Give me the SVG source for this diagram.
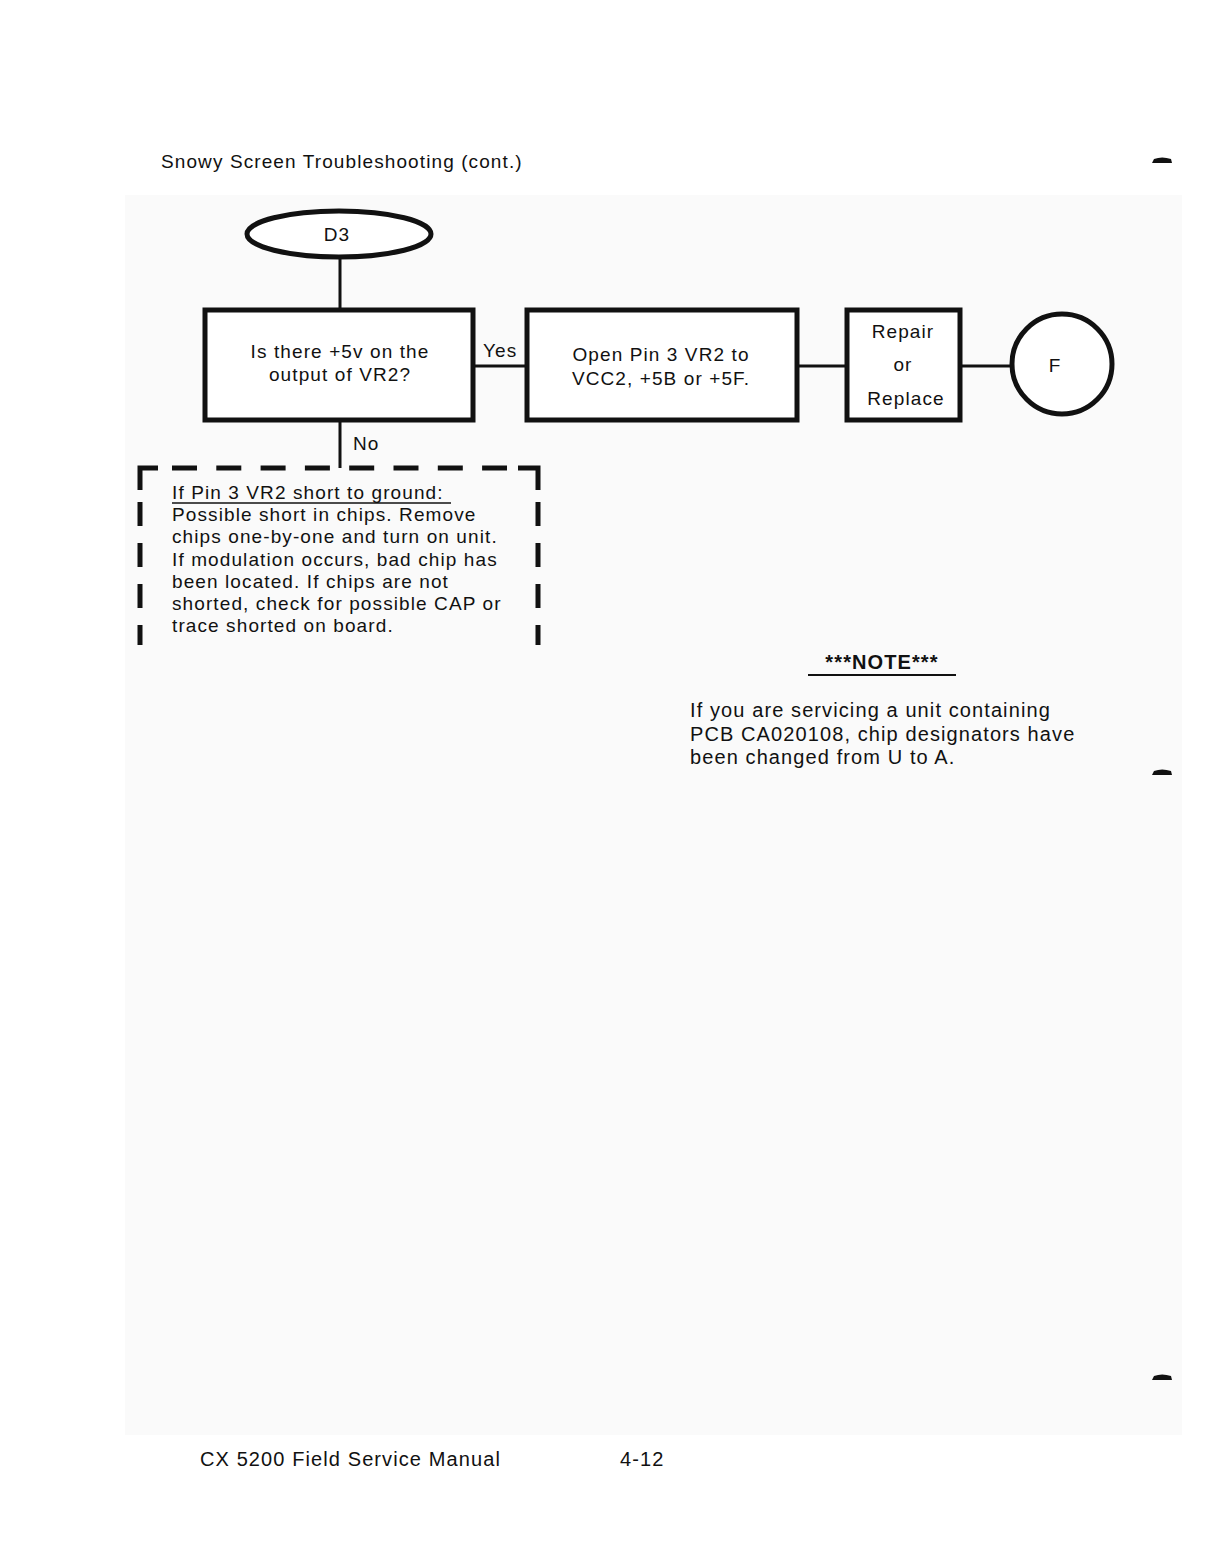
<svg xmlns="http://www.w3.org/2000/svg" width="1218" height="1564" viewBox="0 0 1218 1564">
<style>
.t{font-family:"Liberation Sans","DejaVu Sans",sans-serif;fill:#111;letter-spacing:1.1px;}
.s{fill:#fff;stroke:#111;stroke-width:5;}
.c{stroke:#111;stroke-width:3;fill:none;}
.d{stroke:#111;stroke-width:5;fill:none;}
</style>
<rect x="0" y="0" width="1218" height="1564" fill="#fff"/>
<rect x="125" y="195" width="1057" height="1240" fill="#fafafa"/>
<text class="t" x="161" y="168" font-size="19">Snowy Screen Troubleshooting (cont.)</text>
<g id="margin-marks" fill="#111">
<path d="M1152 163 L1172 163 L1171 159 Q1162 156 1154 159 Z"/>
<path d="M1152 775 L1172 775 L1171 771 Q1162 768 1154 771 Z"/>
<path d="M1152 1380 L1172 1380 L1171 1376 Q1162 1373 1154 1376 Z"/>
</g>
<g id="connectors">
<line class="c" x1="340" y1="258" x2="340" y2="310"/>
<line class="c" x1="473" y1="366" x2="527" y2="366"/>
<line class="c" x1="797" y1="366" x2="847" y2="366"/>
<line class="c" x1="960" y1="366" x2="1013" y2="366"/>
<line class="c" x1="340" y1="420" x2="340" y2="468"/>
<text class="t" x="483" y="357" font-size="19">Yes</text>
<text class="t" x="353" y="450" font-size="19">No</text>
</g>
<g id="node-d3">
<ellipse class="s" cx="339" cy="234" rx="92" ry="23"/>
<text class="t" x="337" y="241" font-size="19" text-anchor="middle">D3</text>
</g>
<g id="node-question">
<rect class="s" x="205" y="310" width="268" height="110"/>
<text class="t" x="340" y="358" font-size="19" text-anchor="middle">Is there +5v on the</text>
<text class="t" x="340" y="381" font-size="19" text-anchor="middle">output of VR2?</text>
</g>
<g id="node-open">
<rect class="s" x="527" y="310" width="270" height="110"/>
<text class="t" x="661" y="361" font-size="19" text-anchor="middle">Open Pin 3 VR2 to</text>
<text class="t" x="661" y="385" font-size="19" text-anchor="middle">VCC2, +5B or +5F.</text>
</g>
<g id="node-repair">
<rect class="s" x="847" y="310" width="113" height="110"/>
<text class="t" x="903" y="338" font-size="19" text-anchor="middle">Repair</text>
<text class="t" x="903" y="371" font-size="19" text-anchor="middle">or</text>
<text class="t" x="906" y="405" font-size="19" text-anchor="middle">Replace</text>
</g>
<g id="node-f">
<circle class="s" cx="1062" cy="364" r="50"/>
<text class="t" x="1055" y="372" font-size="19" text-anchor="middle">F</text>
</g>
<g id="node-short">
<path class="d" d="M140 490 L140 468 L158 468" />
<path class="d" d="M518 468 L538 468 L538 490"/>
<line class="d" x1="172" y1="468" x2="507" y2="468" stroke-dasharray="25 19.3"/>
<line class="d" x1="140" y1="502" x2="140" y2="645" stroke-dasharray="24 17"/>
<line class="d" x1="538" y1="502" x2="538" y2="645" stroke-dasharray="24 17"/>
<text class="t" x="172" y="499" font-size="19" letter-spacing="1.4">If Pin 3 VR2 short to ground:</text>
<line x1="172" y1="503" x2="451" y2="503" stroke="#111" stroke-width="1.5"/>
<text class="t" x="172" y="521" font-size="19">Possible short in chips.  Remove</text>
<text class="t" x="172" y="543" font-size="19">chips one-by-one and turn on unit.</text>
<text class="t" x="172" y="566" font-size="19">If modulation occurs, bad chip  has</text>
<text class="t" x="172" y="588" font-size="19">been located.  If chips are not</text>
<text class="t" x="172" y="610" font-size="19">shorted, check for possible CAP or</text>
<text class="t" x="172" y="632" font-size="19">trace shorted on board.</text>
</g>
<g id="note">
<text class="t" x="882" y="669" font-size="20" font-weight="bold" text-anchor="middle">***NOTE***</text>
<line x1="808" y1="675" x2="956" y2="675" stroke="#111" stroke-width="2"/>
<text class="t" x="690" y="717" font-size="20">If you are servicing a unit containing</text>
<text class="t" x="690" y="741" font-size="20">PCB CA020108, chip designators have</text>
<text class="t" x="690" y="764" font-size="20">been changed from U to A.</text>
</g>
<text class="t" x="200" y="1466" font-size="20">CX 5200 Field Service Manual</text>
<text class="t" x="620" y="1466" font-size="20">4-12</text>
</svg>
